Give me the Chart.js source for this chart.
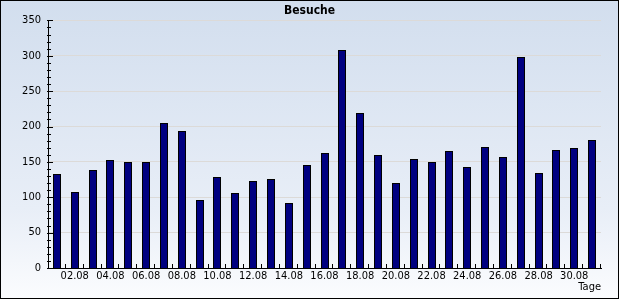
<!DOCTYPE html>
<html>
<head>
<meta charset="utf-8">
<script src="https://cdn.jsdelivr.net/npm/chart.js@4/dist/chart.umd.min.js"></script>
<style>
    body { margin: 0; background: #fff; }
    #rahmen {
        width: 617px;
        height: 297px;
        border: 1px solid #000;
        background: linear-gradient(#d2deee, #e8eef7 70%, #fbfcfe);
    }
    canvas { display: block; }
</style>
</head>
<body>
<div id="rahmen"><canvas id="grafik" width="617" height="297"></canvas></div>
<script>
const tage = [];
for (let d = 1; d <= 31; d++) {
    tage.push((d < 10 ? "0" + d : "" + d) + ".08");
}
const besuche = [133, 108, 139, 153, 150, 150, 205, 194, 96, 129,
                 106, 123, 126, 92, 146, 162, 308, 219, 160, 120,
                 154, 150, 165, 143, 171, 157, 298, 134, 167, 170, 181];
const yTicks = [0, 50, 100, 150, 200, 250, 300, 350];

const schrift = "'DejaVu Sans Condensed', 'DejaVu Sans', sans-serif";

// Balken auf ganze Pixel legen, damit der schwarze Rand scharf bleibt
const pixelRaster = {
    id: "pixelRaster",
    beforeDatasetsDraw(chart) {
        chart.getDatasetMeta(0).data.forEach(bar => {
            bar.x = Math.round(bar.x);
            bar.y = Math.round(bar.y);
            bar.base = Math.round(bar.base);
            bar.width = Math.round(bar.width);
        });
    }
};

// kleine Striche an den Achsen (innen), aus den Skalen berechnet
const achsenStriche = {
    id: "achsenStriche",
    afterDraw(chart) {
        const ctx = chart.ctx;
        const x = chart.scales.x;
        const y = chart.scales.y;
        ctx.save();
        ctx.strokeStyle = "#000";
        ctx.lineWidth = 1;
        ctx.beginPath();
        for (let v = 0; v <= 350; v += 10) {
            const py = Math.round(y.getPixelForValue(v)) + 0.5;
            const len = v % 50 === 0 ? 5 : 3;
            ctx.moveTo(x.left - 1, py);
            ctx.lineTo(x.left + len, py);
        }
        const schritt = x.width / tage.length;
        for (let i = 1; i <= tage.length; i++) {
            const px = Math.round(x.left + i * schritt) - 0.5;
            ctx.moveTo(px, y.bottom);
            ctx.lineTo(px, y.bottom - 4);
        }
        ctx.stroke();
        ctx.restore();
    }
};

new Chart(document.getElementById("grafik"), {
    type: "bar",
    data: {
        labels: tage,
        datasets: [{
            label: "Besuche",
            data: besuche,
            backgroundColor: "#000080",
            borderColor: "#000",
            borderWidth: 1,
            inflateAmount: 0,
            categoryPercentage: 1,
            barPercentage: 0.45
        }]
    },
    options: {
        responsive: false,
        animation: false,
        layout: { padding: 0 },
        plugins: {
            legend: { display: false },
            tooltip: { enabled: false },
            title: {
                display: true,
                text: "Besuche",
                color: "#000",
                font: { family: schrift, size: 12, weight: "bold" },
                padding: { top: 3, bottom: 2 }
            }
        },
        scales: {
            x: {
                grid: { display: true, drawOnChartArea: false, drawTicks: false },
                border: { color: "#000", width: 1 },
                ticks: {
                    autoSkip: false,
                    maxRotation: 0,
                    padding: 2,
                    color: "#000",
                    font: { family: schrift, size: 11 },
                    callback: function (wert, i) {
                        return i % 2 === 1 ? tage[i] : "";
                    }
                },
                title: {
                    display: true,
                    text: "Tage",
                    align: "end",
                    color: "#000",
                    font: { family: schrift, size: 11 },
                    padding: { top: 0, bottom: 4 }
                },
                afterFit: function (s) { s.height = 30; }
            },
            y: {
                min: 0,
                max: 350,
                afterBuildTicks: function (s) {
                    s.ticks = yTicks.map(v => ({ value: v }));
                },
                grid: { color: "#dcdad8", drawTicks: false },
                border: { color: "#000", width: 1 },
                ticks: {
                    padding: 7,
                    color: "#000",
                    font: { family: schrift, size: 11 }
                },
                afterFit: function (s) { s.width = 47; }
            },
            rechts: {
                position: "right",
                min: 0,
                max: 350,
                grid: { display: false },
                border: { display: false },
                ticks: { display: false },
                afterFit: function (s) { s.width = 17; }
            }
        }
    },
    plugins: [pixelRaster, achsenStriche]
});
</script>
</body>
</html>
